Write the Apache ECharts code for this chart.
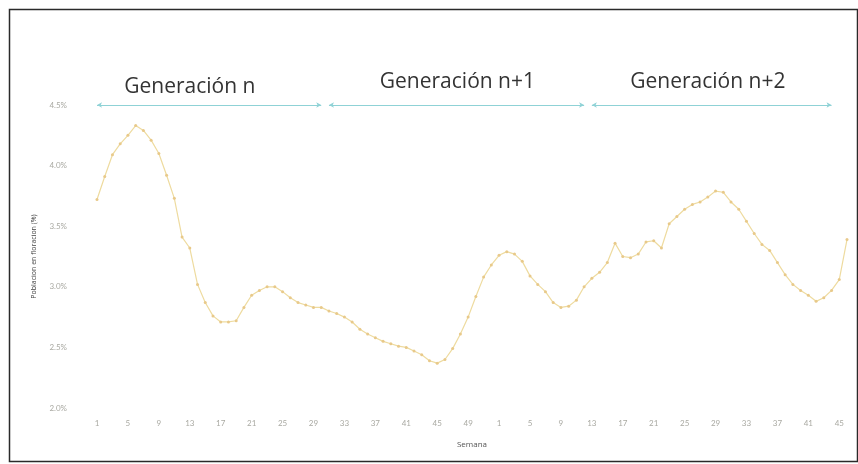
<!DOCTYPE html>
<html>
<head>
<meta charset="utf-8">
<script src="https://cdn.jsdelivr.net/npm/echarts@6/dist/echarts.min.js"></script>
<style>
  html, body { margin: 0; padding: 0; background: #ffffff; }
  #chart { width: 858px; height: 464px; }
</style>
</head>
<body>
<div id="chart"></div>
<script>
// Week labels: one full year (52 weeks) followed by weeks 1-46 of the next year
const weeksYear1 = Array.from({ length: 52 }, (_, k) => String(k + 1));
const weeksYear2 = Array.from({ length: 46 }, (_, k) => String(k + 1));
const weekLabels = weeksYear1.concat(weeksYear2);

// Flowering population, percent of plants, one value per week
const floweringYear1 = [
  3.72, 3.91, 4.09, 4.18, 4.25, 4.33, 4.29, 4.21, 4.10, 3.92,
  3.73, 3.41, 3.32, 3.02, 2.87, 2.76, 2.71, 2.71, 2.72, 2.83,
  2.93, 2.97, 3.00, 3.00, 2.96, 2.91, 2.87, 2.85, 2.83, 2.83,
  2.80, 2.78, 2.75, 2.71, 2.65, 2.61, 2.58, 2.55, 2.53, 2.51,
  2.50, 2.47, 2.44, 2.39, 2.37, 2.40, 2.49, 2.61, 2.75, 2.92,
  3.08, 3.18
];
const floweringYear2 = [
  3.26, 3.29, 3.27, 3.21, 3.09, 3.02, 2.96, 2.87, 2.83, 2.84,
  2.89, 3.00, 3.07, 3.12, 3.20, 3.36, 3.25, 3.24, 3.27, 3.37,
  3.38, 3.32, 3.52, 3.58, 3.64, 3.68, 3.70, 3.74, 3.79, 3.78,
  3.70, 3.64, 3.54, 3.44, 3.35, 3.30, 3.20, 3.10, 3.02, 2.97,
  2.93, 2.88, 2.91, 2.97, 3.06, 3.39
];
const flowering = floweringYear1.concat(floweringYear2);

// Generations: name, first and last week index of each span, index for the caption
const generationNames = ['Generación n', 'Generación n+1', 'Generación n+2'];
const generationStart = [0, 30, 64];
const generationEnd = [29, 63, 95];
const generationCaptionAt = [12, 47, 79];

// Y axis range (percent)
const yMin = 2.0, yMax = 4.5, yStep = 0.5;

const chart = echarts.init(document.getElementById('chart'), null, { renderer: 'canvas' });

const arrowColor = '#8fd2d6';

const option = {
  animation: false,
  backgroundColor: '#ffffff',
  graphic: [{
    type: 'rect',
    left: 7, top: 7,
    shape: { width: 848, height: 452 },
    style: { fill: 'none', stroke: '#2a2a2a', lineWidth: 1.5 },
    silent: true
  }],
  grid: { left: 97, right: 11, top: 105, bottom: 56 },
  xAxis: {
    type: 'category',
    data: weekLabels,
    boundaryGap: false,
    name: 'Semana',
    nameLocation: 'middle',
    nameGap: 33,
    nameTextStyle: { fontFamily: 'Open Sans', fontSize: 8, color: '#555555' },
    axisLine: { show: false },
    axisTick: { show: false },
    splitLine: { show: false },
    axisLabel: {
      interval: 3,
      margin: 11,
      fontFamily: 'Lato',
      fontSize: 8,
      color: '#a9a9a2'
    }
  },
  yAxis: {
    type: 'value',
    min: yMin,
    max: yMax,
    interval: yStep,
    name: 'Poblacion en floracion (%)',
    nameLocation: 'middle',
    nameRotate: 90,
    nameGap: 60,
    nameTextStyle: { fontFamily: 'Open Sans', fontSize: 7, color: '#444444' },
    axisLine: { show: false },
    axisTick: { show: false },
    splitLine: { show: false },
    axisLabel: {
      margin: 30,
      fontFamily: 'Lato',
      fontSize: 8,
      color: '#a9a9a2',
      formatter: v => v.toFixed(1) + '%'
    }
  },
  series: [{
    type: 'line',
    data: flowering,
    smooth: false,
    symbol: 'circle',
    symbolSize: 3,
    showAllSymbol: true,
    lineStyle: { color: '#eedb9f', width: 1.2 },
    itemStyle: { color: '#e8c98a', borderWidth: 0 },
    emphasis: { disabled: true },
    markLine: {
      silent: true,
      symbol: ['arrow', 'arrow'],
      symbolSize: [4, 5],
      lineStyle: { color: arrowColor, width: 1, type: 'solid' },
      label: { show: false },
      emphasis: { disabled: true },
      data: generationNames.map((n, k) => [
        { coord: [generationStart[k], yMax] },
        { coord: [generationEnd[k], yMax] }
      ])
    },
    markPoint: {
      silent: true,
      symbol: 'circle',
      symbolSize: 1,
      itemStyle: { color: 'rgba(0,0,0,0)' },
      label: {
        show: true,
        position: 'inside',
        fontFamily: 'Open Sans',
        fontSize: 21,
        color: '#333333',
        formatter: p => p.name
      },
      data: generationNames.map((n, k) => ({
        name: n,
        coord: [generationCaptionAt[k], yMax],
        label: { offset: [k === 1 ? -3 : 0, k === 0 ? -18 : -23] }
      }))
    }
  }]
};

chart.setOption(option);
</script>
</body>
</html>
